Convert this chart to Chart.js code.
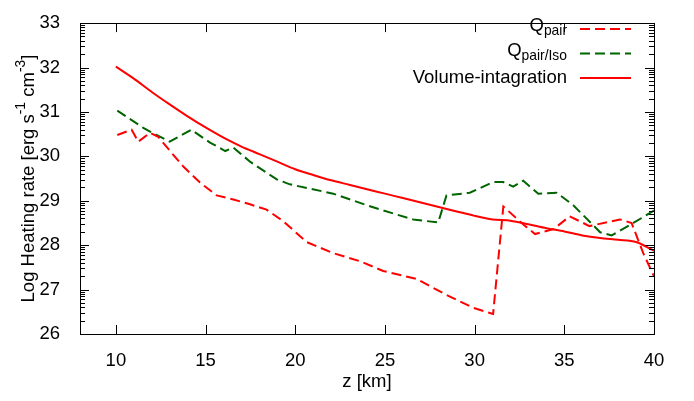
<!DOCTYPE html>
<html>
<head>
<meta charset="utf-8">
<script src="https://cdn.jsdelivr.net/npm/chart.js@4"></script>
<style>
  html, body { margin: 0; padding: 0; background: #fff; }
  #wrap { width: 694px; height: 401px; }
</style>
</head>
<body>
<div id="wrap"><canvas id="heatChart" width="694" height="401"></canvas></div>
<script>
// data
const zTicks = [10, 15, 20, 25, 30, 35, 40]

const zVolume = [10, 11, 12, 13, 14, 15, 16, 17, 18, 19, 20, 21, 22, 23, 24, 25,
                 26, 27, 28, 29, 30, 31, 32, 33, 34, 35, 36, 37, 38, 39, 40]
const volumeRate = [32.02, 31.75, 31.45, 31.17, 30.9, 30.65, 30.42, 30.22, 30.05, 29.88, 29.71,
                    29.58, 29.46, 29.36, 29.26, 29.16, 29.06, 28.96, 28.86, 28.76, 28.66,
                    28.58, 28.55, 28.47, 28.38, 28.31, 28.22, 28.16, 28.12, 28.07, 27.87]

const zPair = [10.08, 10.88, 11.25, 11.9, 12.36, 13.0, 13.76, 14.69, 15.62, 16.55, 17.48,
               18.4, 19.33, 20.63, 22.12, 23.6, 24.9, 26.76, 28.43, 29.92, 31.03, 31.6,
               32.7, 33.37, 34.4, 35.3, 36.4, 38.1, 38.75, 39.4, 40.0]
const pairRate = [30.48, 30.60, 30.33, 30.53, 30.44, 30.13, 29.77, 29.41, 29.12, 29.03, 28.92,
                  28.80, 28.54, 28.07, 27.82, 27.64, 27.42, 27.24, 26.88, 26.59, 26.45, 28.87,
                  28.47, 28.25, 28.36, 28.65, 28.43, 28.58, 28.50, 27.82, 27.30]

const zIso = [10.08, 11.53, 12.37, 13.0, 14.2, 15.25, 16.1, 16.55, 17.48, 18.97, 19.7,
              22.12, 23.98, 25.65, 26.58, 27.97, 28.43, 29.73, 31.03, 31.6, 32.15, 32.71,
              33.55, 34.57, 35.5, 37.0, 37.64, 38.85, 40.0]
const isoRate = [31.03, 30.64, 30.46, 30.33, 30.60, 30.31, 30.12, 30.20, 29.88, 29.48, 29.37,
                 29.16, 28.90, 28.69, 28.58, 28.51, 29.12, 29.18, 29.42, 29.42, 29.32, 29.45,
                 29.16, 29.18, 28.90, 28.29, 28.22, 28.50, 28.78]

const FONT = '"Liberation Sans", Arial, sans-serif'
const FSIZE = 18.5
const RED = '#ff0000'
const GREEN = '#006400'

function toPoints(xs, ys) {
    return xs.map((x, i) => ({ x: x, y: ys[i] }))
}

// legend entries: text parts, sub = subscript
const legendItems = [
    { parts: [{ t: 'Q' }, { t: 'pair', sub: true }], color: RED, dash: [10, 5] },
    { parts: [{ t: 'Q' }, { t: 'pair/Iso', sub: true }], color: GREEN, dash: [10, 5] },
    { parts: [{ t: 'Volume-intagration' }], color: RED, dash: [] }
]

// draws mixed text (sub/superscripts) starting at x
function drawParts(ctx, parts, x, y, size) {
    let cx = x
    parts.forEach(p => {
        const s = (p.sub || p.sup) ? size * 0.75 : size
        ctx.font = s + 'px ' + FONT
        let dy = 0
        if (p.sub) dy = size * 0.3
        if (p.sup) dy = -size * 0.42
        ctx.fillText(p.t, cx, y + dy)
        cx += ctx.measureText(p.t).width
    })
}
function partsWidth(ctx, parts, size) {
    let w = 0
    parts.forEach(p => {
        const s = (p.sub || p.sup) ? size * 0.75 : size
        ctx.font = s + 'px ' + FONT
        w += ctx.measureText(p.t).width
    })
    return w
}

// frame, inward ticks, log-style minor ticks, y title and legend
const gnuFrame = {
    id: 'gnuFrame',
    afterDraw(chart) {
        const ctx = chart.ctx
        const a = chart.chartArea
        const xs = chart.scales.x
        const ys = chart.scales.y
        ctx.save()
        ctx.strokeStyle = '#000'
        ctx.lineWidth = 1
        ctx.setLineDash([])

        ctx.beginPath()
        zTicks.forEach(v => {
            const px = Math.round(xs.getPixelForValue(v)) + 0.5
            ctx.moveTo(px, a.bottom); ctx.lineTo(px, a.bottom - 9)
            ctx.moveTo(px, a.top); ctx.lineTo(px, a.top + 9)
        })
        for (let n = 26; n <= 33; n++) {
            const py = Math.round(ys.getPixelForValue(n)) + 0.5
            ctx.moveTo(a.left, py); ctx.lineTo(a.left + 9, py)
            ctx.moveTo(a.right, py); ctx.lineTo(a.right - 9, py)
            if (n < 33) {
                for (let k = 2; k <= 9; k++) {
                    const my = Math.round(ys.getPixelForValue(n + Math.log10(k))) + 0.5
                    ctx.moveTo(a.left, my); ctx.lineTo(a.left + 5, my)
                    ctx.moveTo(a.right, my); ctx.lineTo(a.right - 5, my)
                }
            }
        }
        ctx.stroke()

        ctx.strokeRect(Math.round(a.left) + 0.5, Math.round(a.top) + 0.5,
                       Math.round(a.right - a.left), Math.round(a.bottom - a.top))

        // y axis title
        ctx.fillStyle = '#000'
        ctx.textBaseline = 'middle'
        ctx.textAlign = 'left'
        const yTitle = [{ t: 'Log Heating rate [erg s' }, { t: '-1', sup: true },
                        { t: ' cm' }, { t: '-3', sup: true }, { t: ']' }]
        const tw = partsWidth(ctx, yTitle, FSIZE)
        ctx.save()
        ctx.translate(29, (a.top + a.bottom) / 2)
        ctx.rotate(-Math.PI / 2)
        drawParts(ctx, yTitle, -tw / 2, 0, FSIZE)
        ctx.restore()

        // legend
        legendItems.forEach((it, i) => {
            const y = 29 + i * 24.5
            const w = partsWidth(ctx, it.parts, FSIZE)
            ctx.fillStyle = '#000'
            drawParts(ctx, it.parts, 567 - w, y - (it.parts.length > 1 ? 3 : 0), FSIZE)
            ctx.strokeStyle = it.color
            ctx.lineWidth = 2
            ctx.setLineDash(it.dash)
            ctx.beginPath()
            ctx.moveTo(580, y); ctx.lineTo(631, y)
            ctx.stroke()
        })
        ctx.restore()
    }
}

let heatChart = new Chart(document.getElementById('heatChart'), {
    type: 'scatter',
    data: {
        datasets: [
            {
                label: 'Q_pair',
                data: toPoints(zPair, pairRate),
                showLine: true,
                borderColor: RED,
                borderWidth: 2,
                borderDash: [10, 5],
                pointRadius: 0
            },
            {
                label: 'Q_pair/Iso',
                data: toPoints(zIso, isoRate),
                showLine: true,
                borderColor: GREEN,
                borderWidth: 2,
                borderDash: [10, 5],
                pointRadius: 0
            },
            {
                label: 'Volume-intagration',
                data: toPoints(zVolume, volumeRate),
                showLine: true,
                borderColor: RED,
                borderWidth: 2,
                pointRadius: 0,
                tension: 0.3
            }
        ]
    },
    options: {
        responsive: false,
        animation: false,
        devicePixelRatio: 1,
        layout: { padding: { left: 0, right: 40, top: 11, bottom: 0 } },
        plugins: {
            legend: { display: false },
            tooltip: { enabled: false }
        },
        scales: {
            x: {
                type: 'linear',
                min: 8,
                max: 40,
                afterBuildTicks: s => { s.ticks = zTicks.map(v => ({ value: v })) },
                afterFit: s => { s.height = 67 },
                grid: { display: false },
                border: { display: false },
                ticks: { color: '#000', font: { family: FONT, size: FSIZE }, padding: 8, maxRotation: 0 },
                title: {
                    display: true,
                    text: 'z [km]',
                    color: '#000',
                    font: { family: FONT, size: FSIZE },
                    padding: { top: 0, bottom: 8 }
                }
            },
            y: {
                min: 26,
                max: 33,
                afterFit: s => { s.width = 80 },
                grid: { display: false },
                border: { display: false },
                ticks: { stepSize: 1, color: '#000', font: { family: FONT, size: FSIZE }, padding: 12 }
            }
        }
    },
    plugins: [gnuFrame]
});
</script>
</body>
</html>
